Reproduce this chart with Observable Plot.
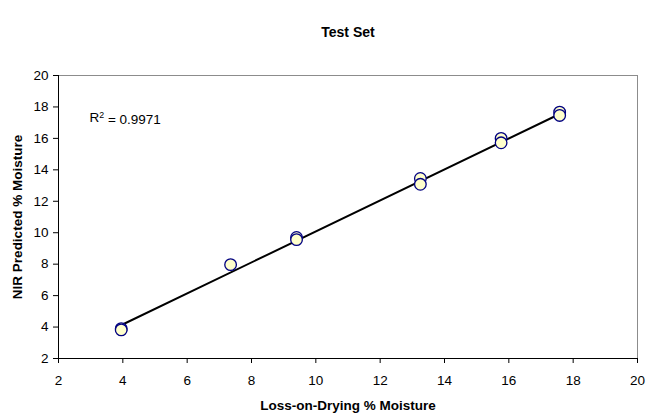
<!DOCTYPE html>
<html>
<head>
<meta charset="utf-8">
<script src="https://cdn.jsdelivr.net/npm/d3@7"></script>
<script src="https://cdn.jsdelivr.net/npm/@observablehq/plot@0.6"></script>
<style>
  html, body { margin: 0; padding: 0; background: white; }
  #chart svg { display: block; }
</style>
</head>
<body>
<div id="chart"></div>
<script>
// Tick labels
const xTicks = [2, 4, 6, 8, 10, 12, 14, 16, 18, 20];
const yTicks = [2, 4, 6, 8, 10, 12, 14, 16, 18, 20];

// Test set samples: Loss-on-Drying % moisture vs NIR predicted % moisture
const lodMoisture = [3.95, 3.95, 7.35, 9.40, 9.40, 13.25, 13.25, 15.76, 15.76, 17.58, 17.58];
const nirMoisture = [3.90, 3.82, 7.97, 9.70, 9.56, 13.45, 13.08, 16.00, 15.72, 17.67, 17.46];

// Trendline end points
const trendX = [3.96, 17.58];
const trendY = [4.13, 17.55];

const chartTitle = "Test Set";
const xTitle = "Loss-on-Drying % Moisture";
const yTitle = "NIR Predicted % Moisture";
const r2Label = "R2 = 0.9971";

const points = lodMoisture.map((x, i) => ({x, y: nirMoisture[i]}));
const trend = trendX.map((x, i) => ({x, y: trendY[i]}));

const chart = Plot.plot({
  width: 646,
  height: 417,
  marginLeft: 58,
  marginRight: 9,
  marginTop: 75,
  marginBottom: 59,
  style: {
    fontFamily: "'Liberation Sans', Arial, sans-serif",
    fontSize: "13.5px",
    background: "white",
    color: "black"
  },
  x: {domain: [2, 20], ticks: xTicks, tickSize: 5, tickPadding: 12, label: null, tickFormat: d => String(d)},
  y: {domain: [2, 20], ticks: yTicks, tickSize: 5, tickPadding: 5, label: null, tickFormat: d => String(d)},
  marks: [
    Plot.ruleY([20], {stroke: "#8c8c8c", strokeWidth: 1}),
    Plot.ruleX([20], {stroke: "#8c8c8c", strokeWidth: 1}),
    Plot.ruleX([2], {stroke: "#000", strokeWidth: 1}),
    Plot.ruleY([2], {stroke: "#000", strokeWidth: 1}),
    Plot.line(trend, {x: "x", y: "y", stroke: "black", strokeWidth: 2}),
    Plot.dot(points, {x: "x", y: "y", r: 5.8, fill: "#FFFFCC", stroke: "#000080", strokeWidth: 1.3}),
    Plot.text([r2Label], {frameAnchor: "top-left", dx: 31, dy: 37, textAnchor: "start", fontSize: 13.5}),
    Plot.text([chartTitle], {frameAnchor: "top", dy: -48, textAnchor: "middle", fontWeight: "bold", fontSize: 14}),
    Plot.text([xTitle], {frameAnchor: "bottom", dy: 51, textAnchor: "middle", fontWeight: "bold", fontSize: 13.5}),
    Plot.text([yTitle], {frameAnchor: "left", dx: -41, rotate: -90, textAnchor: "middle", fontWeight: "bold", fontSize: 13.5})
  ]
});

// Render the "2" of R2 as a superscript
d3.select(chart).selectAll("text").filter(function() { return this.textContent === r2Label; })
  .each(function() {
    const t = d3.select(this);
    t.text(null);
    t.append("tspan").text("R");
    t.append("tspan").attr("dy", "-0.45em").attr("font-size", "0.65em").text("2");
    t.append("tspan").attr("dy", "0.45em").text(" = 0.9971");
  });

document.getElementById("chart").appendChild(chart);
</script>
</body>
</html>
